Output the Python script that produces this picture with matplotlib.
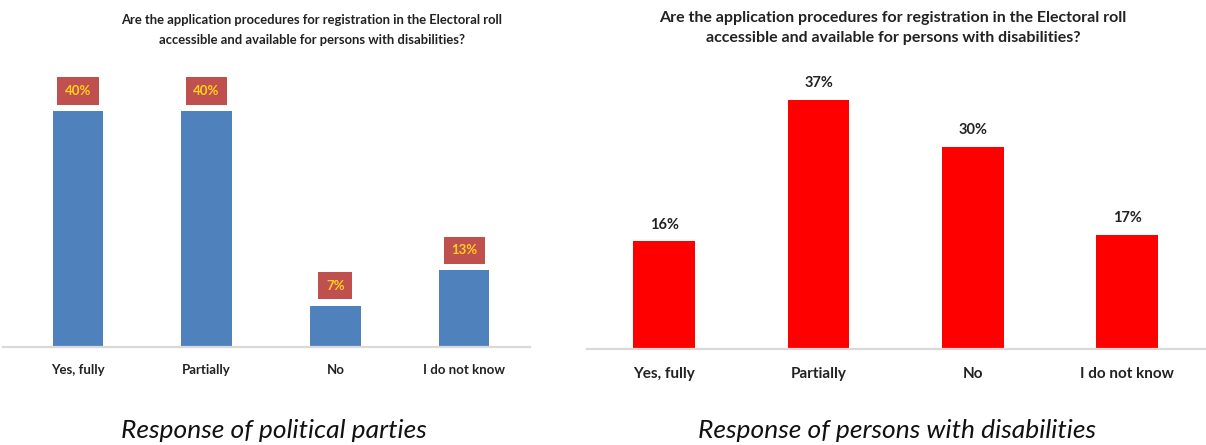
import matplotlib
matplotlib.use("Agg")
import matplotlib.pyplot as plt

categories = ["Yes, fully", "Partially", "No", "I do not know"]
parties_values = [40, 40, 7, 13]
parties_labels = ["40%", "40%", "7%", "13%"]
disab_values = [16, 37, 30, 17]
disab_labels = ["16%", "37%", "30%", "17%"]
title_text = ("Are the application procedures for registration in the Electoral roll\n"
              "accessible and available for persons with disabilities?")
caption_left = "Response of political parties"
caption_right = "Response of persons with disabilities"

W, H = 1206, 445
fig = plt.figure(figsize=(W / 100, H / 100), dpi=100)
fig.patch.set_facecolor("white")

def px_axes(x0, x1, ybase):
    return fig.add_axes([x0 / W, (H - ybase) / H, (x1 - x0) / W, ybase / H])

def style(ax, pad):
    for s in ["top", "left", "right"]:
        ax.spines[s].set_visible(False)
    ax.spines["bottom"].set_color("#D9D9D9")
    ax.spines["bottom"].set_linewidth(1.6)
    ax.set_yticks([])
    ax.tick_params(axis="x", length=0, pad=pad)
    ax.patch.set_alpha(0)

# Left chart
axL = px_axes(3, 530, 347)
xs = range(len(categories))
axL.bar(xs, parties_values, width=0.39, color="#4F81BD", zorder=2)
axL.set_xlim(-0.58, 3.51)
axL.set_ylim(0, 347 / 5.9)
style(axL, 12)
axL.set_xticks(list(xs))
axL.set_xticklabels(categories, fontsize=9.5, fontweight="bold", family="Lato", color="#222222")
for x, v, lab in zip(xs, parties_values, parties_labels):
    axL.annotate(lab, (x, v), xytext=(0, 14.5), textcoords="offset points",
                 ha="center", va="center", fontsize=9.5, fontweight="bold",
                 family="Lato", color="#FFD21F",
                 bbox=dict(boxstyle="square,pad=0.58", facecolor="#C0504D", edgecolor="none"))

# Right chart
axR = px_axes(587, 1206, 349)
axR.bar(xs, disab_values, width=0.40, color="#FF0000", zorder=2)
axR.set_xlim(-0.5, 3.51)
axR.set_ylim(0, 349 / 6.73)
style(axR, 13)
axR.set_xticks(list(xs))
axR.set_xticklabels(categories, fontsize=11, fontweight="bold", family="Lato", color="#222222")
for x, v, lab in zip(xs, disab_values, disab_labels):
    axR.annotate(lab, (x, v), xytext=(0, 12), textcoords="offset points",
                 ha="center", va="center", fontsize=10.5, fontweight="bold",
                 family="Lato", color="#222222")

# Titles
fig.text(312 / W, 1 - 30 / H, title_text, ha="center", va="center", fontsize=9.4,
         fontweight="bold", family="Lato", color="#222222", linespacing=1.7)
fig.text(893 / W, 1 - 28 / H, title_text, ha="center", va="center", fontsize=11.5,
         fontweight="bold", family="Lato", color="#222222", linespacing=1.62)

# Captions
fig.text(274 / W, 1 - 430 / H, caption_left, ha="center", va="center", fontsize=19,
         style="italic", family="Lato", color="#111111")
fig.text(897 / W, 1 - 430 / H, caption_right, ha="center", va="center", fontsize=19,
         style="italic", family="Lato", color="#111111")

fig.savefig("out.png", dpi=100, facecolor="white")
